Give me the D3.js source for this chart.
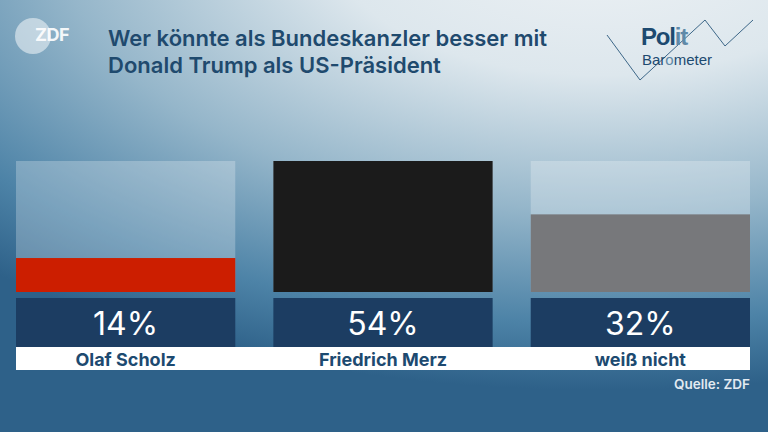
<!DOCTYPE html>
<html>
<head>
<meta charset="utf-8">
<script src="https://cdn.jsdelivr.net/npm/d3@7"></script>
<style>
body{margin:0;padding:0;overflow:hidden}
text{font-family:Inter,"Open Sans",Roboto,sans-serif}
</style>
</head>
<body>
<div id="drawing"></div>
<script>
"use strict"

/**** DATA ****/

let categories = ["Olaf Scholz", "Friedrich Merz", "weiß nicht"]
let values = [14, 54, 32]
let barColors = ["#cc1e00", "#1b1b1b", "#77787b"]

/**** CANVAS ****/

let svgWidth = 768
let svgHeight = 432

let svg = d3.select("#drawing")
.append("svg")
.attr("width", svgWidth)
.attr("height", svgHeight)

let defs = svg.append("defs")

// background glow from the upper right
let bg = defs.append("radialGradient")
.attr("id","bg")
.attr("gradientUnits","userSpaceOnUse")
.attr("cx",600).attr("cy",-60).attr("r",450)
.attr("gradientTransform","translate(600,-60) scale(2,1) translate(-600,60)")
bg.append("stop").attr("offset","0").attr("stop-color","#eef2f5")
bg.append("stop").attr("offset","0.3").attr("stop-color","#dde7ed")
bg.append("stop").attr("offset","0.6").attr("stop-color","#95b6ca")
bg.append("stop").attr("offset","0.85").attr("stop-color","#4d83a7")
bg.append("stop").attr("offset","1").attr("stop-color","#2e6189")

svg.append("rect").attr("width",svgWidth).attr("height",svgHeight).attr("fill","#2d6088")
svg.append("rect").attr("width",svgWidth).attr("height",svgHeight).attr("fill","url(#bg)")

/**** SCALES ****/

let xScale = d3.scaleBand()
.domain(categories)
.range([16, 750])
.paddingInner(0.148)
.paddingOuter(0)

let barTop = 161
let barBottom = 292

let yScale = d3.scaleLinear()
.domain([0, d3.max(values)])
.range([barBottom, barTop])

let data = categories.map((c,i)=>({name:c, value:values[i], color:barColors[i]}))

/**** BARS ****/

svg.selectAll("rect.back")
.data(data)
.join("rect")
.attr("class","back")
.attr("x",d=>xScale(d.name))
.attr("y",barTop)
.attr("width",xScale.bandwidth())
.attr("height",barBottom-barTop)
.attr("fill","#ffffff")
.attr("opacity",0.25)

svg.selectAll("rect.bar")
.data(data)
.join("rect")
.attr("class","bar")
.attr("x",d=>xScale(d.name))
.attr("y",d=>yScale(d.value))
.attr("width",xScale.bandwidth())
.attr("height",d=>barBottom-yScale(d.value))
.attr("fill",d=>d.color)

/**** VALUE BOXES ****/

svg.selectAll("rect.valbox")
.data(data)
.join("rect")
.attr("class","valbox")
.attr("x",d=>xScale(d.name))
.attr("y",298)
.attr("width",xScale.bandwidth())
.attr("height",49)
.attr("fill","#1c3d62")

svg.selectAll("text.val")
.data(data)
.join("text")
.attr("class","val")
.attr("x",d=>xScale(d.name)+xScale.bandwidth()/2)
.attr("y",335)
.attr("text-anchor","middle")
.attr("fill","#ffffff")
.style("font-size","32px")
.text(d=>d.value+"%")

/**** LABELS ****/

svg.append("rect")
.attr("x",16)
.attr("y",347)
.attr("width",734)
.attr("height",23)
.attr("fill","#ffffff")

svg.selectAll("text.lab")
.data(data)
.join("text")
.attr("class","lab")
.attr("x",d=>xScale(d.name)+xScale.bandwidth()/2)
.attr("y",366)
.attr("text-anchor","middle")
.attr("fill","#1d4a70")
.style("font-size","18px")
.style("font-weight","bold")
.text(d=>d.name)

svg.append("text")
.attr("x",750)
.attr("y",389)
.attr("text-anchor","end")
.attr("fill","#e2eaf1")
.style("font-size","13.5px")
.style("font-weight","600")
.text("Quelle: ZDF")

/**** TITLE ****/

svg.append("text")
.attr("x",108)
.attr("y",46)
.attr("fill","#1f4a6e")
.style("font-size","22px")
.style("font-weight","600")
.text("Wer könnte als Bundeskanzler besser mit")

svg.append("text")
.attr("x",108)
.attr("y",73)
.attr("fill","#1f4a6e")
.style("font-size","22px")
.style("font-weight","600")
.text("Donald Trump als US-Präsident")

/**** ZDF LOGO ****/

svg.append("circle")
.attr("cx",33)
.attr("cy",36)
.attr("r",18)
.attr("fill","#ffffff")
.attr("opacity",0.5)

svg.append("text")
.attr("x",35)
.attr("y",41)
.attr("fill","#ffffff")
.attr("opacity",0.9)
.style("font-size","18px")
.style("font-weight","bold")
.style("letter-spacing","-0.5px")
.text("ZDF")

/**** POLITBAROMETER LOGO ****/

svg.append("polyline")
.attr("points","607,35 640,80 705,20 725,46 753,20")
.attr("fill","none")
.attr("stroke","#3d6788")
.attr("stroke-width",1)

let polit = svg.append("text")
.attr("x",641)
.attr("y",45)
.style("font-size","24px")
.style("font-weight","bold")
.style("letter-spacing","-1.2px")
.style("font-family","'Liberation Sans',Arial,sans-serif")
polit.append("tspan").attr("fill","#1d4a70").text("Pol")
polit.append("tspan").attr("fill","#5e89a8").text("it")

let baro = svg.append("text")
.attr("x",642)
.attr("y",65)
.style("font-size","15px")
.style("font-family","'Liberation Sans',Arial,sans-serif")
baro.append("tspan").attr("fill","#1d4a70").text("Bar")
baro.append("tspan").attr("fill","#5e89a8").text("o")
baro.append("tspan").attr("fill","#1d4a70").text("meter")
</script>
</body>
</html>
